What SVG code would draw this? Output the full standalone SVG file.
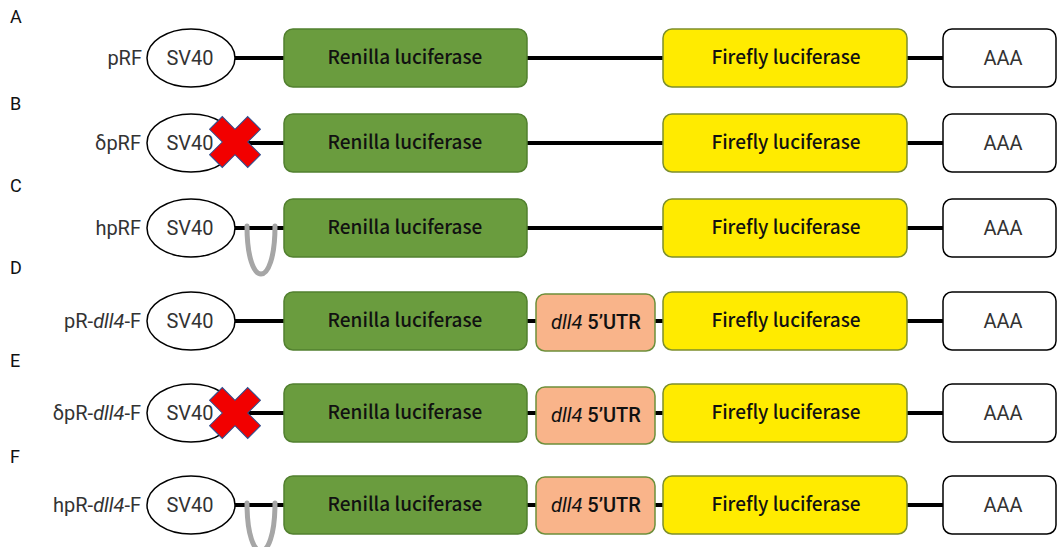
<svg xmlns="http://www.w3.org/2000/svg" xmlns:xlink="http://www.w3.org/1999/xlink" width="1058" height="547" viewBox="0 0 1058 547">
<style>
.bg{fill:#ffffff}
.letter{font-family:Roboto,"Liberation Sans",sans-serif;font-size:18px;fill:#111}
.name{font-family:Roboto,"Liberation Sans",sans-serif;font-size:20px;fill:#333;text-anchor:end}
.it{font-style:italic}
.sv{fill:#fff;stroke:#000;stroke-width:1.5}
.svt{font-family:Roboto,"Liberation Sans",sans-serif;font-size:20px;fill:#333;text-anchor:middle}
.ren{fill:#6a9c3e;stroke:#52802f;stroke-width:1.5}
.fire{fill:#ffeb00;stroke:#7d8f2c;stroke-width:1.5}
.utr{fill:#f9b48a;stroke:#6d8f3a;stroke-width:1.5}
.aaa{fill:#fff;stroke:#000;stroke-width:1.5}
.bt{font-family:"Noto Sans CJK SC","Noto Sans",sans-serif;font-size:19px;font-weight:500;fill:#111;text-anchor:middle}
.ut{font-family:Roboto,"Liberation Sans",sans-serif;font-size:20px;fill:#111;text-anchor:middle}
.ln{stroke:#000;stroke-width:4;fill:none}
.hp{stroke:#a6a6a6;stroke-width:5;fill:none;stroke-linecap:round}
.x{fill:#f20000;stroke:#2f4f8f;stroke-width:1}
</style>
<defs>
<path id="xmark" class="x" d="M-9,-27 L9,-27 L9,-9 L27,-9 L27,9 L9,9 L9,27 L-9,27 L-9,9 L-27,9 L-27,-9 L-9,-9 Z" transform="rotate(45)"/>
</defs>
<rect class="bg" x="0" y="0" width="1058" height="547"/>

<g id="panel-letters">
<text class="letter" x="10" y="23">A</text>
<text class="letter" x="10" y="110">B</text>
<text class="letter" x="10" y="192">C</text>
<text class="letter" x="10" y="274">D</text>
<text class="letter" x="10" y="367">E</text>
<text class="letter" x="10" y="463">F</text>
</g>

<g id="connectors">
<line class="ln" x1="235" y1="58" x2="284" y2="58"/>
<line class="ln" x1="527" y1="58" x2="663" y2="58"/>
<line class="ln" x1="907" y1="58" x2="943" y2="58"/>

<line class="ln" x1="235" y1="143" x2="284" y2="143"/>
<line class="ln" x1="527" y1="143" x2="663" y2="143"/>
<line class="ln" x1="907" y1="143" x2="943" y2="143"/>

<line class="ln" x1="235" y1="228" x2="284" y2="228"/>
<line class="ln" x1="527" y1="228" x2="663" y2="228"/>
<line class="ln" x1="907" y1="228" x2="943" y2="228"/>

<line class="ln" x1="235" y1="321" x2="284" y2="321"/>
<line class="ln" x1="527" y1="321" x2="536" y2="321"/>
<line class="ln" x1="655" y1="321" x2="663" y2="321"/>
<line class="ln" x1="907" y1="321" x2="943" y2="321"/>

<line class="ln" x1="235" y1="413" x2="284" y2="413"/>
<line class="ln" x1="527" y1="413" x2="536" y2="413"/>
<line class="ln" x1="655" y1="413" x2="663" y2="413"/>
<line class="ln" x1="907" y1="413" x2="943" y2="413"/>

<line class="ln" x1="235" y1="505" x2="284" y2="505"/>
<line class="ln" x1="527" y1="505" x2="536" y2="505"/>
<line class="ln" x1="655" y1="505" x2="663" y2="505"/>
<line class="ln" x1="907" y1="505" x2="943" y2="505"/>
</g>

<!-- Row A -->
<g id="rowA">
<text class="name" x="142" y="65">pRF</text>
<g id="A-sv40"><ellipse class="sv" cx="191" cy="58" rx="44" ry="29"/><text class="svt" x="190" y="65">SV40</text></g>
<g id="A-renilla"><rect class="ren" x="284" y="29" width="243" height="58" rx="9"/><text class="bt" x="405" y="64">Renilla luciferase</text></g>
<g id="A-firefly"><rect class="fire" x="663" y="29" width="244" height="58" rx="9"/><text class="bt" x="786" y="64">Firefly luciferase</text></g>
<g id="A-aaa"><rect class="aaa" x="943" y="29" width="113" height="58" rx="9"/><text class="svt" x="1003" y="65">AAA</text></g>
</g>

<!-- Row B -->
<g id="rowB">
<text class="name" x="141" y="150">δpRF</text>
<g id="B-sv40"><ellipse class="sv" cx="191" cy="143" rx="44" ry="29"/><text class="svt" x="190" y="150">SV40</text></g>
<g id="B-x"><use xlink:href="#xmark" x="235" y="142"/></g>
<g id="B-renilla"><rect class="ren" x="284" y="114" width="243" height="58" rx="9"/><text class="bt" x="405" y="149">Renilla luciferase</text></g>
<g id="B-firefly"><rect class="fire" x="663" y="114" width="244" height="58" rx="9"/><text class="bt" x="786" y="149">Firefly luciferase</text></g>
<g id="B-aaa"><rect class="aaa" x="943" y="114" width="113" height="58" rx="9"/><text class="svt" x="1003" y="150">AAA</text></g>
</g>

<!-- Row C -->
<g id="rowC">
<text class="name" x="141" y="235">hpRF</text>
<g id="C-sv40"><ellipse class="sv" cx="191" cy="228" rx="44" ry="29"/><text class="svt" x="190" y="235">SV40</text></g>
<g id="C-hairpin"><path class="hp" d="M247,226 C247,290 275,290 275,226"/></g>
<g id="C-renilla"><rect class="ren" x="284" y="199" width="243" height="58" rx="9"/><text class="bt" x="405" y="234">Renilla luciferase</text></g>
<g id="C-firefly"><rect class="fire" x="663" y="199" width="244" height="58" rx="9"/><text class="bt" x="786" y="234">Firefly luciferase</text></g>
<g id="C-aaa"><rect class="aaa" x="943" y="199" width="113" height="58" rx="9"/><text class="svt" x="1003" y="235">AAA</text></g>
</g>

<!-- Row D -->
<g id="rowD">
<text class="name" x="141" y="328">pR-<tspan class="it">dll4</tspan>-F</text>
<g id="D-sv40"><ellipse class="sv" cx="191" cy="321" rx="44" ry="29"/><text class="svt" x="190" y="328">SV40</text></g>
<g id="D-renilla"><rect class="ren" x="284" y="292" width="243" height="58" rx="9"/><text class="bt" x="405" y="327">Renilla luciferase</text></g>
<g id="D-utr"><rect class="utr" x="536" y="294" width="119" height="57" rx="9"/><text class="ut" x="596" y="329"><tspan class="it">dll4</tspan> <tspan font-weight="500">5’UTR</tspan></text></g>
<g id="D-firefly"><rect class="fire" x="663" y="292" width="244" height="58" rx="9"/><text class="bt" x="786" y="327">Firefly luciferase</text></g>
<g id="D-aaa"><rect class="aaa" x="943" y="292" width="113" height="58" rx="9"/><text class="svt" x="1003" y="328">AAA</text></g>
</g>

<!-- Row E -->
<g id="rowE">
<text class="name" x="141" y="420">δpR-<tspan class="it">dll4</tspan>-F</text>
<g id="E-sv40"><ellipse class="sv" cx="191" cy="413" rx="44" ry="29"/><text class="svt" x="190" y="420">SV40</text></g>
<g id="E-x"><use xlink:href="#xmark" x="235" y="413"/></g>
<g id="E-renilla"><rect class="ren" x="284" y="384" width="243" height="58" rx="9"/><text class="bt" x="405" y="419">Renilla luciferase</text></g>
<g id="E-utr"><rect class="utr" x="536" y="387" width="119" height="57" rx="9"/><text class="ut" x="596" y="422"><tspan class="it">dll4</tspan> <tspan font-weight="500">5’UTR</tspan></text></g>
<g id="E-firefly"><rect class="fire" x="663" y="384" width="244" height="58" rx="9"/><text class="bt" x="786" y="419">Firefly luciferase</text></g>
<g id="E-aaa"><rect class="aaa" x="943" y="384" width="113" height="58" rx="9"/><text class="svt" x="1003" y="420">AAA</text></g>
</g>

<!-- Row F -->
<g id="rowF">
<text class="name" x="141" y="512">hpR-<tspan class="it">dll4</tspan>-F</text>
<g id="F-sv40"><ellipse class="sv" cx="191" cy="505" rx="44" ry="29"/><text class="svt" x="190" y="512">SV40</text></g>
<g id="F-hairpin"><path class="hp" d="M247,503 C247,567 275,567 275,503"/></g>
<g id="F-renilla"><rect class="ren" x="284" y="476" width="243" height="58" rx="9"/><text class="bt" x="405" y="511">Renilla luciferase</text></g>
<g id="F-utr"><rect class="utr" x="536" y="477" width="119" height="57" rx="9"/><text class="ut" x="596" y="512"><tspan class="it">dll4</tspan> <tspan font-weight="500">5’UTR</tspan></text></g>
<g id="F-firefly"><rect class="fire" x="663" y="476" width="244" height="58" rx="9"/><text class="bt" x="786" y="511">Firefly luciferase</text></g>
<g id="F-aaa"><rect class="aaa" x="943" y="476" width="113" height="58" rx="9"/><text class="svt" x="1003" y="512">AAA</text></g>
</g>
</svg>
